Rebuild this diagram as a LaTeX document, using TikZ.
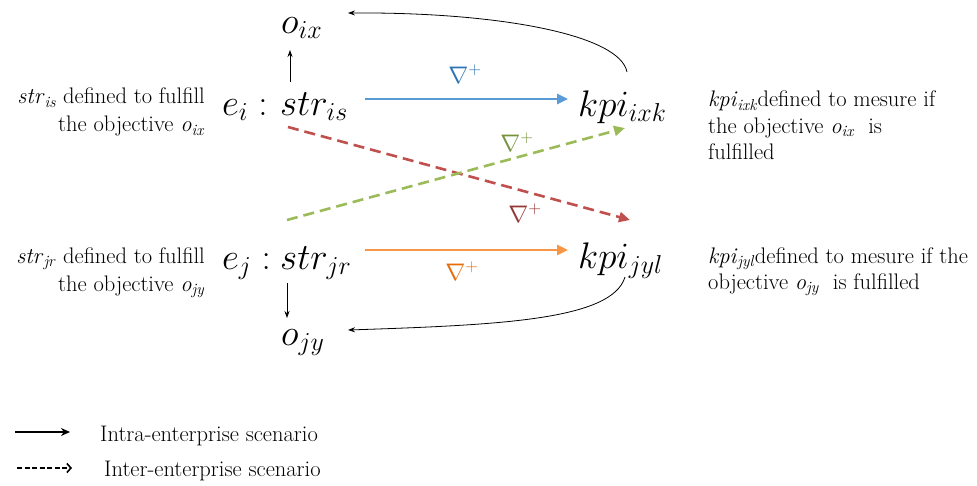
\RequirePackage{fix-cm}
\documentclass[tikz,border=0pt]{standalone}
\usetikzlibrary{arrows.meta}
\definecolor{cblue}{RGB}{91,155,213}
\definecolor{lblue}{RGB}{46,117,182}
\definecolor{cgreen}{RGB}{155,187,89}
\definecolor{lgreen}{RGB}{118,146,60}
\definecolor{cred}{RGB}{192,80,77}
\definecolor{lred}{RGB}{149,55,52}
\definecolor{corange}{RGB}{247,150,70}
\definecolor{lorange}{RGB}{228,108,10}
\newcommand\bigf{\fontsize{37}{40}\selectfont}
\newcommand\txtf{\fontsize{22.5}{28}\selectfont}
\newcommand\txtg{\fontsize{22.5}{26.5}\selectfont}
\newcommand\labf{\fontsize{24}{26}\selectfont}
\newcommand\sv[2]{\textit{#1}\textsubscript{\textit{#2}}}
\begin{document}
\begin{tikzpicture}[x=1pt,y=-1pt,
  big/.style={inner sep=0pt, font=\bigf, anchor=base west},
  txt/.style={inner sep=0pt, font=\txtf},
  thinarrow/.style={-{Stealth[length=7pt,width=5pt]}, line width=0.8pt},
  colarrow/.style={line width=2.6pt, -{Triangle[length=11pt,width=10pt]}},
  dsharrow/.style={colarrow, dash pattern=on 11pt off 6pt},
  legarrow/.style={line width=1.6pt},
  lab/.style={inner sep=0pt, font=\labf}]
\useasboundingbox (0,0) rectangle (977,485);

% main nodes
\node[big] (ei) at (222,115) {$e_i :$};
\node[big] (stris) at (280,115) {$str_{is}$};
\node[big] (kpiixk) at (578,116) {$kpi_{ixk}$};
\node[big] (oix) at (281,33) {$o_{ix}$};
\node[big] (ej) at (222,269) {$e_j :$};
\node[big] (strjr) at (280,269) {$str_{jr}$};
\node[big] (kpijyl) at (578,268) {$kpi_{jyl}$};
\node[big] (ojy) at (281,345) {$o_{jy}$};

% side texts
\node[txt, anchor=north east, align=right] (tl1) at (205,88)
  {\sv{str}{is} defined to fulfill\\the objective \sv{o}{ix}};
\node[txt, anchor=north east, align=right] (tl2) at (205,247)
  {\sv{str}{jr} defined to fulfill\\the objective \sv{o}{jy}};
\node[inner sep=0pt, font=\txtg, anchor=north west, align=left] (tr1) at (708,91)
  {\sv{kpi}{ixk}defined to mesure if\\the objective \sv{o}{ix}\ \ is\\fulfilled};
\node[inner sep=0pt, font=\txtg, anchor=north west, align=left] (tr2) at (708,247)
  {\sv{kpi}{jyl}defined to mesure if the\\objective \sv{o}{jy}\ \ is fulfilled};

% labels
\node[lab, text=lblue] (nb) at (465,74) {$\nabla^{+}$};
\node[lab, text=lgreen] (ng) at (517,142) {$\nabla^{+}$};
\node[lab, text=lred] (nr) at (525,213) {$\nabla^{+}$};
\node[lab, text=lorange] (no) at (462,271) {$\nabla^{+}$};

% thin black connectors
\draw[thinarrow] ([shift={(10,-33)}]stris.base west) -- ([shift={(9,17)}]oix.base west);
\draw[thinarrow] ([shift={(7,14)}]strjr.base west) -- ([shift={(6,-27)}]ojy.base west);
\draw[thinarrow] ([shift={(49,-44)}]kpiixk.base west) .. controls (620,35) and (500,12) .. ([shift={(67,-20)}]oix.base west);
\draw[thinarrow] ([shift={(47,9)}]kpijyl.base west) .. controls (612,320) and (500,325) .. ([shift={(67,-15)}]ojy.base west);

% coloured connectors
\draw[colarrow, cblue] ([shift={(85,-16)}]stris.base west) -- ([shift={(-10,-17)}]kpiixk.base west);
\draw[colarrow, corange] ([shift={(85,-19)}]strjr.base west) -- ([shift={(-10,-18)}]kpijyl.base west);
\draw[dsharrow, cred] ([shift={(8,12)}]stris.base west) -- ([shift={(52,104)}]kpiixk.base west);
\draw[dsharrow, cgreen] ([shift={(7,-49)}]strjr.base west) -- ([shift={(47,12)}]kpiixk.base west);

% legend
\coordinate (l1s) at (15,432);
\coordinate (l1e) at (70,432);
\coordinate (l2s) at (17,468);
\coordinate (l2e) at (72,468);
\draw[legarrow, -{Stealth[length=9pt,width=8pt]}] (l1s) -- (l1e);
\draw[legarrow, dash pattern=on 5pt off 2.5pt, -{Straight Barb[length=4pt,width=9pt,line width=1.6pt]}] (l2s) -- (l2e);
\node[txt, anchor=base west] (leg1) at (100,441) {Intra-enterprise scenario};
\node[txt, anchor=base west] (leg2) at (104,476) {Inter-enterprise scenario};
\end{tikzpicture}
\end{document}
